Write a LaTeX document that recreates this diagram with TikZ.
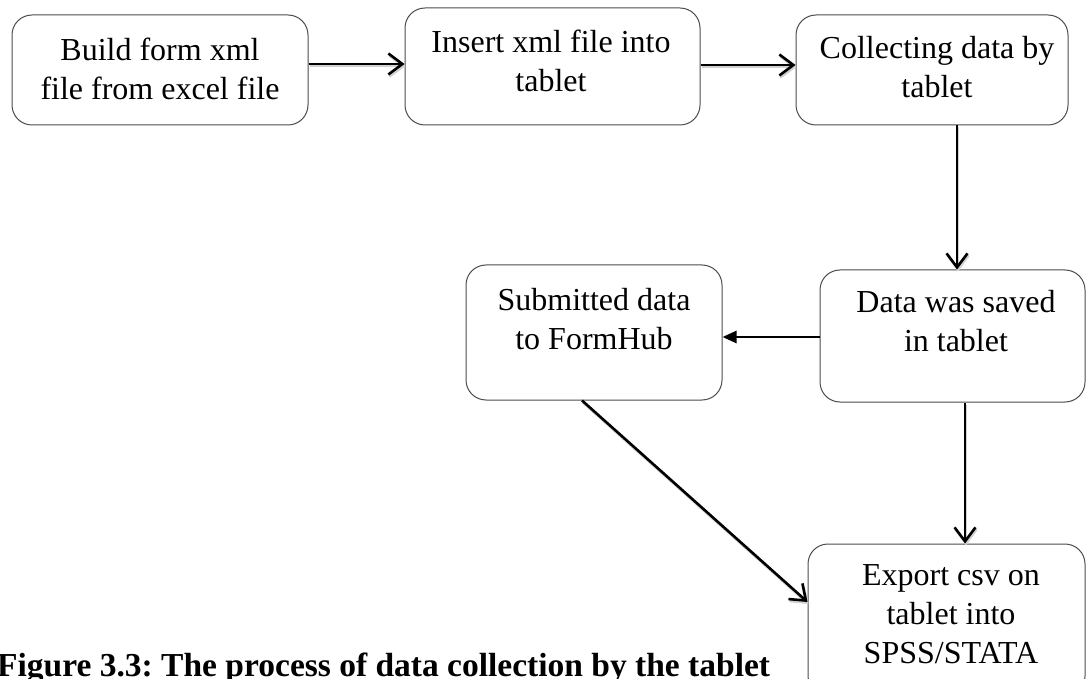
\documentclass[tikz,border=0pt]{standalone}
\usepackage{fontspec}
\setmainfont{Liberation Serif}
\usetikzlibrary{arrows.meta}
\begin{document}
\begin{tikzpicture}[x=1pt,y=-1pt,
  procbox/.style={draw=black!70, line width=1pt, rounded corners=20pt, inner sep=0pt},
  boxtext/.style={align=center, anchor=base, inner sep=0pt, font=\fontsize{32}{39}\selectfont},
  shade/.style={preaction={draw=black!18, line width=2.6pt, transform canvas={xshift=1pt,yshift=-2pt}}},
  flow/.style={draw=black, line width=2.6pt, shade,
    -{Straight Barb[length=14pt,width=21pt,line width=2.6pt]}},
  flowfill/.style={draw=black, line width=2.6pt, -{Triangle[length=14pt,width=12pt]}},
  caption/.style={font=\fontsize{33.5}{39}\selectfont\bfseries\frenchspacing, anchor=base west, inner sep=0pt}]
\useasboundingbox (0,0) rectangle (1088,679);
\clip (0,0) rectangle (1088,679);

% process boxes
\node[procbox, minimum width=296pt, minimum height=110pt] (build)   at (160,70) {};
\node[procbox, minimum width=295pt, minimum height=117pt] (insert)  at (552.5,66.5) {};
\node[procbox, minimum width=272pt, minimum height=110pt] (collect) at (932,70) {};
\node[procbox, minimum width=265pt, minimum height=132pt] (saved)   at (952.5,336) {};
\node[procbox, minimum width=256pt, minimum height=135pt] (submit)  at (594,332.5) {};
\node[procbox, minimum width=277pt, minimum height=152pt] (export)  at (946.5,620) {};

% box labels (anchored on the last baseline)
\node[boxtext] (build-t)   at (160,100)  {Build form xml\\file from excel file};
\node[boxtext] (insert-t)  at (551,92)   {Insert xml file into\\tablet};
\node[boxtext] (collect-t) at (937,98)   {Collecting data by\\tablet};
\node[boxtext] (saved-t)   at (956,352)  {Data was saved\\in tablet};
\node[boxtext] (submit-t)  at (594,349)  {Submitted data\\to FormHub};
\node[boxtext] (export-t)  at (951,663)  {Export csv on\\tablet into\\SPSS/STATA};

% connector guide positions
\coordinate (r12) at (0,64);
\coordinate (r23) at (0,65);
\coordinate (c34) at (957,0);
\coordinate (r45) at (0,337);
\coordinate (c46) at (965,0);

% connectors
\draw[flow] (build.east |- r12) -- (insert.west |- r12);
\draw[flow] (insert.east |- r23) -- (collect.west |- r23);
\draw[flow] (collect.south -| c34) -- (saved.north -| c34);
\draw[flowfill] (saved.west |- r45) -- (submit.east |- r45);
\draw[flow] (saved.south -| c46) -- (export.north -| c46);
\draw[flow] ([xshift=-12pt]submit.south) -- ([yshift=18pt]export.west);

% caption
\node[caption] (cap) at (-3,676) {Figure 3.3: The process of data collection by the tablet};
\end{tikzpicture}
\end{document}
